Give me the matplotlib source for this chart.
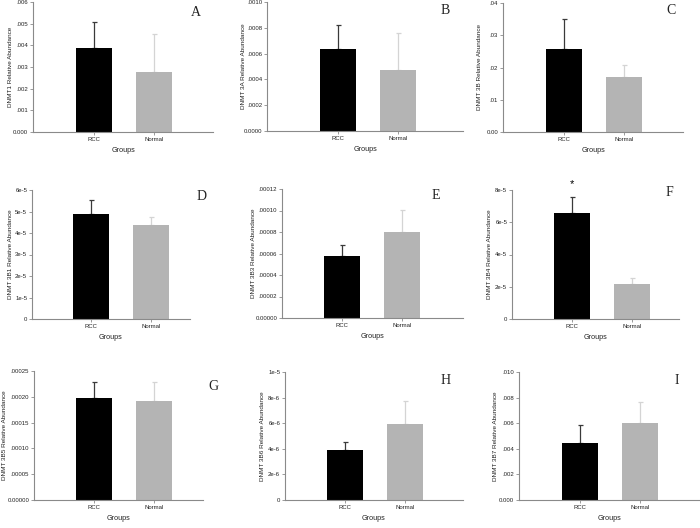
import matplotlib
import matplotlib.pyplot as plt

matplotlib.use("Agg")

groups = ["RCC", "Normal"]
letters = ["A", "B", "C", "D", "E", "F", "G", "H", "I"]
ylabels = [
	"DNMT1 Relative Abundance",
	"DNMT 3A Relative Abundance",
	"DNMT 3B Relative Abundance",
	"DNMT 3B1 Relative Abundance",
	"DNMT 3B3 Relative Abundance",
	"DNMT 3B4 Relative Abundance",
	"DNMT 3B5 Relative Abundance",
	"DNMT 3B6 Relative Abundance",
	"DNMT 3B7 Relative Abundance",
]

# means (RCC, Normal) and upper SE per panel
means_a = [0.00388, 0.00276]
err_a = [0.00119, 0.00178]
means_b = [0.000632, 0.000471]
err_b = [0.000192, 0.000288]
means_c = [0.0258, 0.01705]
err_c = [0.0092, 0.0037]
means_d = [4.90e-5, 4.36e-5]
err_d = [0.65e-5, 0.38e-5]
means_e = [5.73e-5, 8.01e-5]
err_e = [1.06e-5, 2.06e-5]
means_f = [6.55e-5, 2.20e-5]
err_f = [1.04e-5, 0.33e-5]
means_g = [1.970e-4, 1.919e-4]
err_g = [0.323e-4, 0.371e-4]
means_h = [3.92e-6, 5.95e-6]
err_h = [0.63e-6, 1.76e-6]
means_i = [0.00447, 0.0060]
err_i = [0.00137, 0.00166]

ticks_a = [0, 0.001, 0.002, 0.003, 0.004, 0.005, 0.006]
ticklabels_a = ["0.000", ".001", ".002", ".003", ".004", ".005", ".006"]
ticks_b = [0, 0.0002, 0.0004, 0.0006, 0.0008, 0.0010]
ticklabels_b = ["0.0000", ".0002", ".0004", ".0006", ".0008", ".0010"]
ticks_c = [0, 0.01, 0.02, 0.03, 0.04]
ticklabels_c = ["0.00", ".01", ".02", ".03", ".04"]
ticks_d = [0, 1e-5, 2e-5, 3e-5, 4e-5, 5e-5, 6e-5]
ticklabels_d = ["0", "1e-5", "2e-5", "3e-5", "4e-5", "5e-5", "6e-5"]
ticks_e = [0, 2e-5, 4e-5, 6e-5, 8e-5, 10e-5, 12e-5]
ticklabels_e = ["0.00000", ".00002", ".00004", ".00006", ".00008", ".00010", ".00012"]
ticks_f = [0, 2e-5, 4e-5, 6e-5, 8e-5]
ticklabels_f = ["0", "2e-5", "4e-5", "6e-5", "8e-5"]
ticks_g = [0, 5e-5, 10e-5, 15e-5, 20e-5, 25e-5]
ticklabels_g = ["0.00000", ".00005", ".00010", ".00015", ".00020", ".00025"]
ticks_h = [0, 2e-6, 4e-6, 6e-6, 8e-6, 10e-6]
ticklabels_h = ["0", "2e-6", "4e-6", "6e-6", "8e-6", "1e-5"]
ticks_i = [0, 0.002, 0.004, 0.006, 0.008, 0.010]
ticklabels_i = ["0.000", ".002", ".004", ".006", ".008", ".010"]

panels = [
	(means_a, err_a, ticks_a, ticklabels_a),
	(means_b, err_b, ticks_b, ticklabels_b),
	(means_c, err_c, ticks_c, ticklabels_c),
	(means_d, err_d, ticks_d, ticklabels_d),
	(means_e, err_e, ticks_e, ticklabels_e),
	(means_f, err_f, ticks_f, ticklabels_f),
	(means_g, err_g, ticks_g, ticklabels_g),
	(means_h, err_h, ticks_h, ticklabels_h),
	(means_i, err_i, ticks_i, ticklabels_i),
]

# pixel layout: left, right, top, bottom, RCC bar centre, letter x, letter y, ylabel x
layout = [
	(33, 213, 2, 132, 94, 196, 13, 10),
	(267, 463, 2, 131, 338, 445, 10, 243),
	(503, 683, 3, 132, 564, 671, 11, 479),
	(32, 190, 190, 319, 91, 202, 197, 10),
	(282, 463, 189, 318, 342, 436, 195, 253),
	(512, 679, 190, 319, 572, 669, 192, 489),
	(34, 203, 371, 500, 94, 213, 387, 4),
	(285, 463, 372, 500, 345, 446, 380, 262),
	(519, 699, 372, 500, 580, 677, 380, 495),
]

W, H = 700, 528
SPACING = 60.0  # px between bar centres
bar_colors = ["#000000", "#b4b4b4"]
err_colors = ["#3a3a3a", "#d4d4d4"]
axis_color = "#8a8a8a"

plt.rcParams["font.family"] = ["Liberation Sans", "DejaVu Sans"]

fig = plt.figure(figsize=(W / 100, H / 100), dpi=100)

for k, ((means, errs, ticks, tlabels), (l, r, t, b, c0, lx, ly, yx)) in enumerate(zip(panels, layout)):
	ax = fig.add_axes([l / W, 1 - b / H, (r - l) / W, (b - t) / H])
	xs = [0, 1]
	ax.bar(xs, means, width=0.6, color=bar_colors, edgecolor="none", zorder=2)
	for x, m, e, ec in zip(xs, means, errs, err_colors):
		ax.errorbar([x], [m], yerr=[[0], [e]], fmt="none", ecolor=ec,
			elinewidth=0.9, capsize=1.8, capthick=0.9, zorder=1)
	ax.set_xlim(-(c0 - l) / SPACING, (r - l - (c0 - l)) / SPACING)
	ax.set_ylim(0, ticks[-1])
	ax.set_yticks(ticks)
	ax.set_yticklabels(tlabels)
	ax.set_xticks(xs)
	ax.set_xticklabels(groups)
	ax.tick_params(axis="both", labelsize=4.3, length=2, width=0.6, colors=axis_color,
		labelcolor="#222222", pad=1.5)
	for side in ("top", "right"):
		ax.spines[side].set_visible(False)
	for side in ("left", "bottom"):
		ax.spines[side].set_color(axis_color)
		ax.spines[side].set_linewidth(0.8)
	ax.set_xlabel("Groups", fontsize=5.2, color="#222222", labelpad=4)
	ax.set_ylabel(ylabels[k], fontsize=4.6, color="#222222")
	ax.yaxis.set_label_coords((yx + 3 - l) / (r - l), 0.5)
	ax.patch.set_visible(False)
	fig.text(lx / W, 1 - ly / H, letters[k], fontsize=10, family="Liberation Serif",
		ha="center", va="center", color="#222222")

# significance marker on panel F
ax_f = fig.axes[5]
ax_f.annotate("*", xy=(0, means_f[0] + err_f[0]), xytext=(0, 9), textcoords="offset points",
	ha="center", va="center", fontsize=8, annotation_clip=False)

fig.savefig("out.png", dpi=100)
